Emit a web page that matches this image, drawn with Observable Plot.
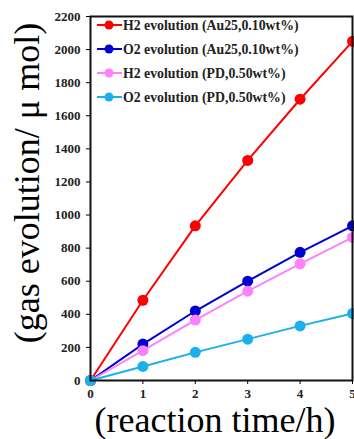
<!DOCTYPE html>
<html><head><meta charset="utf-8">
<script src="https://cdn.jsdelivr.net/npm/d3@7"></script>
<script src="https://cdn.jsdelivr.net/npm/@observablehq/plot@0.6"></script>
<style>
html,body{margin:0;padding:0;background:#fff;overflow:hidden;}
#chart{position:relative;width:354px;height:439px;}
</style>
</head><body><div id="chart"></div>
<script>
const hours = [0, 1, 2, 3, 4, 5];
const seriesNames = [
  "H2 evolution (Au25,0.10wt%)",
  "O2 evolution (Au25,0.10wt%)",
  "H2 evolution (PD,0.50wt%)",
  "O2 evolution (PD,0.50wt%)"
];
const seriesColors = ["#ff0000", "#0000d0", "#ff80ff", "#1cb0ea"];
const h2Au25 = [0, 485, 935, 1330, 1700, 2050];
const o2Au25 = [0, 220, 420, 600, 775, 935];
const h2PD = [0, 180, 365, 540, 705, 865];
const o2PD = [0, 85, 170, 250, 330, 405];
const yTicks = [0, 200, 400, 600, 800, 1000, 1200, 1400, 1600, 1800, 2000, 2200];
const xTicks = [0, 1, 2, 3, 4, 5];
const xLabel = "(reaction time/h)";
const yLabel = "(gas evolution/ \u03bc mol)";

const allSeries = [h2Au25, o2Au25, h2PD, o2PD];
const data = allSeries.flatMap((vals, i) => vals.map((v, j) => ({t: hours[j], v, s: seriesNames[i]})));

const serif = "'Liberation Serif','Times New Roman',serif";
const W = 354, H = 439;
const fmt = d => String(d);
const plot = Plot.plot({
  width: W, height: H,
  marginLeft: 90, marginRight: 2, marginTop: 16, marginBottom: 59,
  style: {fontFamily: serif, fontSize: "13px", fontWeight: "bold", background: "#fff", overflow: "visible"},
  x: {domain: [0, 5], label: null},
  y: {domain: [0, 2200], label: null},
  color: {domain: seriesNames, range: seriesColors},
  marks: [
    Plot.axisX({ticks: xTicks, tickFormat: fmt, tickSize: 4, tickPadding: 4, label: null, fontSize: 13, fill: "#222"}),
    Plot.axisY({ticks: yTicks, tickFormat: fmt, tickSize: 4, tickPadding: 6, label: null, fontSize: 13, fill: "#222"}),
    ...seriesNames.map(name => Plot.line(data.filter(d => d.s === name), {x: "t", y: "v", stroke: "s", strokeWidth: 2})),
    ...seriesNames.map(name => Plot.dot(data.filter(d => d.s === name), {x: "t", y: "v", fill: "s", r: 5.5})),
    Plot.frame({stroke: "#111", strokeWidth: 2})
  ]
});
document.getElementById("chart").appendChild(plot);

const svg = d3.select(plot);
// axis titles
svg.append("text")
  .attr("transform", `translate(39,${183}) rotate(-90)`)
  .attr("text-anchor", "middle")
  .style("font-family", serif).style("font-size", "36px").style("font-weight", "normal")
  .attr("fill", "#000").text(yLabel);
svg.append("text")
  .attr("x", 215).attr("y", 432)
  .attr("text-anchor", "middle")
  .style("font-family", serif).style("font-size", "36px").style("font-weight", "normal")
  .attr("fill", "#000").text(xLabel);
// legend
const lg = svg.append("g");
seriesNames.forEach((name, i) => {
  const y = 25 + i * 24;
  lg.append("line").attr("x1", 97).attr("x2", 122).attr("y1", y).attr("y2", y)
    .attr("stroke", seriesColors[i]).attr("stroke-width", 2);
  lg.append("circle").attr("cx", 109).attr("cy", y).attr("r", 4.5).attr("fill", seriesColors[i]);
  lg.append("text").attr("x", 123).attr("y", y).attr("dy", "0.35em")
    .attr("text-anchor", "start")
    .style("font-family", serif).style("font-size", "13.8px").style("font-weight", "bold")
    .attr("fill", "#222").text(name);
});
</script>
</body></html>
